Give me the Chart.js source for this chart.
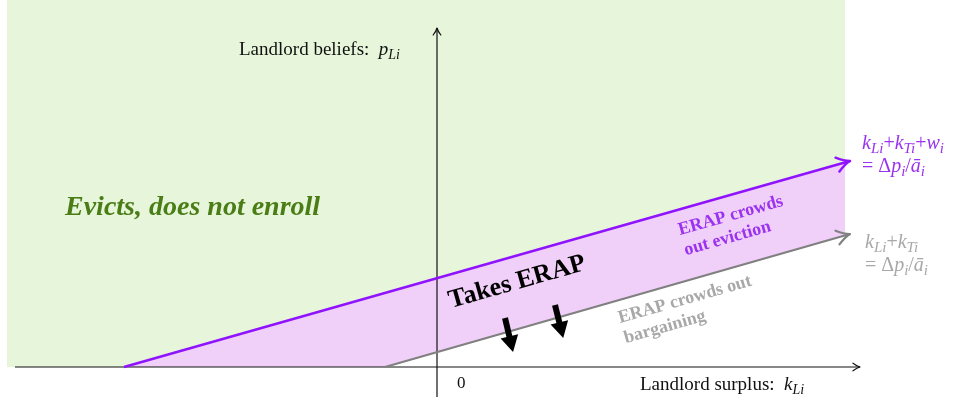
<!DOCTYPE html>
<html>
<head>
<meta charset="utf-8">
<script src="https://cdn.jsdelivr.net/npm/chart.js@4"></script>
<style>
html, body { margin: 0; padding: 0; background: #fff; }
canvas { display: block; }
</style>
</head>
<body>
<canvas id="chart" width="958" height="402"></canvas>
<script>
// Landlord surplus (x) vs landlord beliefs (y), origin where the axes cross
const regionX = [-4.30, -4.30, 4.08, 4.08, -0.52];
const regionY = [0, 3.67, 3.67, 1.315, 0];
const evictLineX = [-3.13, 4.13];
const evictLineY = [0, 2.06];
const bargainLineX = [-0.52, 4.13];
const bargainLineY = [0, 1.33];
const takeUpX = [-3.13, 4.08, 4.08, -0.52];
const takeUpY = [0, 2.045, 1.315, 0];
const xAxisX = [-4.22, 4.23];
const yAxisY = [-0.30, 3.39];
const shiftArrowX = [[0.68, 0.726], [1.18, 1.226]];
const shiftArrowY = [[0.49, 0.296], [0.62, 0.436]];

const FONT = '"Liberation Serif", "DejaVu Serif", serif';
const PURPLE = '#9013fe';
const GRAY = '#808080';

function pts(xs, ys) {
    return xs.map((x, i) => ({ x: x, y: ys[i] }));
}

// text with italic / subscript runs
function drawRich(ctx, parts, x, y, size, color) {
    ctx.fillStyle = color;
    ctx.textAlign = 'left';
    ctx.textBaseline = 'alphabetic';
    let cx = x;
    parts.forEach(([text, kind]) => {
        let fs = size, dy = 0, style = '';
        if (kind === 'i') style = 'italic ';
        if (kind === 's') { style = 'italic '; fs = Math.round(size * 0.75); dy = size * 0.22; }
        ctx.font = style + fs + 'px ' + FONT;
        ctx.fillText(text, cx, y + dy);
        cx += ctx.measureText(text).width;
    });
}

const arrowPlugin = {
    id: 'arrows',
    afterDatasetsDraw(chart) {
        const ctx = chart.ctx;
        chart.data.datasets.forEach((ds, i) => {
            if (!ds.arrow) return;
            const pts = chart.getDatasetMeta(i).data;
            const a = pts[pts.length - 2], b = pts[pts.length - 1];
            const ang = Math.atan2(b.y - a.y, b.x - a.x);
            ctx.save();
            ctx.translate(b.x, b.y);
            ctx.rotate(ang);
            if (ds.arrow === 'open') {
                const L = ds.arrowSize;
                ctx.strokeStyle = ds.borderColor;
                ctx.lineWidth = ds.borderWidth;
                ctx.lineCap = 'round';
                ctx.lineJoin = 'round';
                ctx.beginPath();
                ctx.moveTo(-L, -L * 0.55);
                ctx.quadraticCurveTo(-L * 0.4, -L * 0.1, 0, 0);
                ctx.quadraticCurveTo(-L * 0.4, L * 0.1, -L, L * 0.55);
                ctx.stroke();
            } else {
                ctx.fillStyle = ds.borderColor;
                ctx.beginPath();
                ctx.moveTo(-1, -9);
                ctx.lineTo(15, 0);
                ctx.lineTo(-1, 9);
                ctx.closePath();
                ctx.fill();
            }
            ctx.restore();
        });
    }
};

const labelPlugin = {
    id: 'labels',
    afterDraw(chart) {
        const ctx = chart.ctx;
        const xs = chart.scales.x, ys = chart.scales.y;
        const px = v => xs.getPixelForValue(v);
        const py = v => ys.getPixelForValue(v);
        const ang = Math.atan2(py(evictLineY[1]) - py(evictLineY[0]), px(evictLineX[1]) - px(evictLineX[0]));

        ctx.save();
        // axis titles
        drawRich(ctx, [['Landlord beliefs:  ', 'n'], ['p', 'i'], ['Li', 's']], px(-1.98), py(3.12), 19, '#111');
        drawRich(ctx, [['Landlord surplus:  ', 'n'], ['k', 'i'], ['Li', 's']], px(2.03), py(-0.23), 19, '#111');
        drawRich(ctx, [['0', 'n']], px(0.20), py(-0.21), 17, '#111');

        // region label
        ctx.font = 'italic bold 28px ' + FONT;
        ctx.fillStyle = '#4b7d17';
        ctx.fillText('Evicts, does not enroll', px(-3.72), py(1.52));

        // line end labels
        drawRich(ctx, [['k', 'i'], ['Li', 's'], ['+', 'n'], ['k', 'i'], ['Ti', 's'], ['+', 'n'], ['w', 'i'], ['i', 's']],
            px(4.25), py(2.18), 20, '#9a33f0');
        drawRich(ctx, [['= Δ', 'n'], ['p', 'i'], ['i', 's'], ['/', 'n'], ['ā', 'i'], ['i', 's']],
            px(4.25), py(1.95), 20, '#9a33f0');
        drawRich(ctx, [['k', 'i'], ['Li', 's'], ['+', 'n'], ['k', 'i'], ['Ti', 's']],
            px(4.28), py(1.19), 20, '#a8a8a8');
        drawRich(ctx, [['= Δ', 'n'], ['p', 'i'], ['i', 's'], ['/', 'n'], ['ā', 'i'], ['i', 's']],
            px(4.28), py(0.96), 20, '#a8a8a8');

        // rotated labels along the lines
        const rotated = (lines, x, y, font, color, lead) => {
            ctx.save();
            ctx.translate(px(x), py(y));
            ctx.rotate(ang);
            ctx.font = font;
            ctx.fillStyle = color;
            ctx.textAlign = 'left';
            lines.forEach((t, k) => ctx.fillText(t, 0, k * lead));
            ctx.restore();
        };
        rotated(['Takes ERAP'], 0.14, 0.59, 'bold 26px ' + FONT, '#000', 0);
        rotated(['ERAP crowds', 'out eviction'], 2.43, 1.32, 'bold 18px ' + FONT, '#9a33f0', 21);
        rotated(['ERAP crowds out', 'bargaining'], 1.83, 0.44, 'bold 18px ' + FONT, '#a8a8a8', 21);
        ctx.restore();
    }
};

const line = (data, color, width, extra) => Object.assign({
    data: data,
    showLine: true,
    borderColor: color,
    borderWidth: width,
    pointRadius: 0,
    fill: false,
    tension: 0
}, extra);

new Chart(document.getElementById('chart'), {
    type: 'scatter',
    data: {
        datasets: [
            line(pts(shiftArrowX[0], shiftArrowY[0]), '#000', 6, { arrow: 'solid', order: 0 }),
            line(pts(shiftArrowX[1], shiftArrowY[1]), '#000', 6, { arrow: 'solid', order: 0 }),
            line(pts(evictLineX, evictLineY), PURPLE, 2.5, { arrow: 'open', arrowSize: 13, order: 1 }),
            line(pts(bargainLineX, bargainLineY), GRAY, 2.2, { arrow: 'open', arrowSize: 13, order: 1 }),
            line(pts(xAxisX, [0, 0]), '#111', 1.2, { arrow: 'open', arrowSize: 7, order: 2 }),
            line(pts([0, 0], yAxisY), '#111', 1.2, { arrow: 'open', arrowSize: 7, order: 2 }),
            line(pts(takeUpX, takeUpY), 'rgba(0,0,0,0)', 0, { fill: 'shape', backgroundColor: '#f0d0f8', order: 3 }),
            line(pts(regionX, regionY), 'rgba(0,0,0,0)', 0, { fill: 'shape', backgroundColor: '#e7f6da', order: 4 })
        ]
    },
    options: {
        responsive: false,
        devicePixelRatio: 1,
        animation: false,
        layout: { padding: 0 },
        plugins: { legend: { display: false }, tooltip: { enabled: false } },
        scales: {
            x: { type: 'linear', min: -4.37, max: 5.21, display: false },
            y: { type: 'linear', min: -0.35, max: 3.67, display: false }
        }
    },
    plugins: [arrowPlugin, labelPlugin]
});
</script>
</body>
</html>
